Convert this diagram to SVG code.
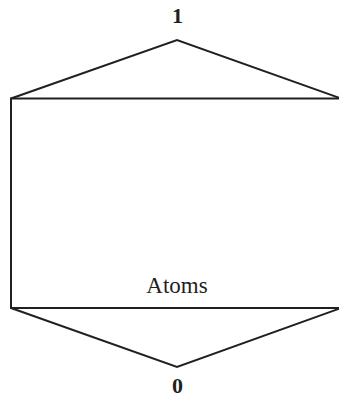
<svg xmlns="http://www.w3.org/2000/svg" width="339" height="400" viewBox="0 0 339 400">
<style>
.ln{fill:none;stroke:#231f20;stroke-width:2;stroke-linejoin:miter}
.t{font-family:"Liberation Serif","DejaVu Serif",serif;fill:#231f20;text-anchor:middle}
.num{font-size:22px;font-weight:bold}
.lbl{font-size:23px}
</style>
<rect width="339" height="400" fill="#ffffff"/>
<g id="connectors">
<path class="ln" d="M11,98.5 L177,40 L341,98.5"/>
<path class="ln" d="M11,308 L177,367 L341,308"/>
</g>
<g id="lattice">
<path class="ln" d="M341,98.5 L11,98.5 L11,308 L341,308"/>
</g>
<g id="top"><text class="t num" x="177.5" y="23">1</text></g>
<g id="bottom"><text class="t num" x="177.5" y="393">0</text></g>
<g id="atoms"><text class="t lbl" x="177" y="293">Atoms</text></g>
</svg>
